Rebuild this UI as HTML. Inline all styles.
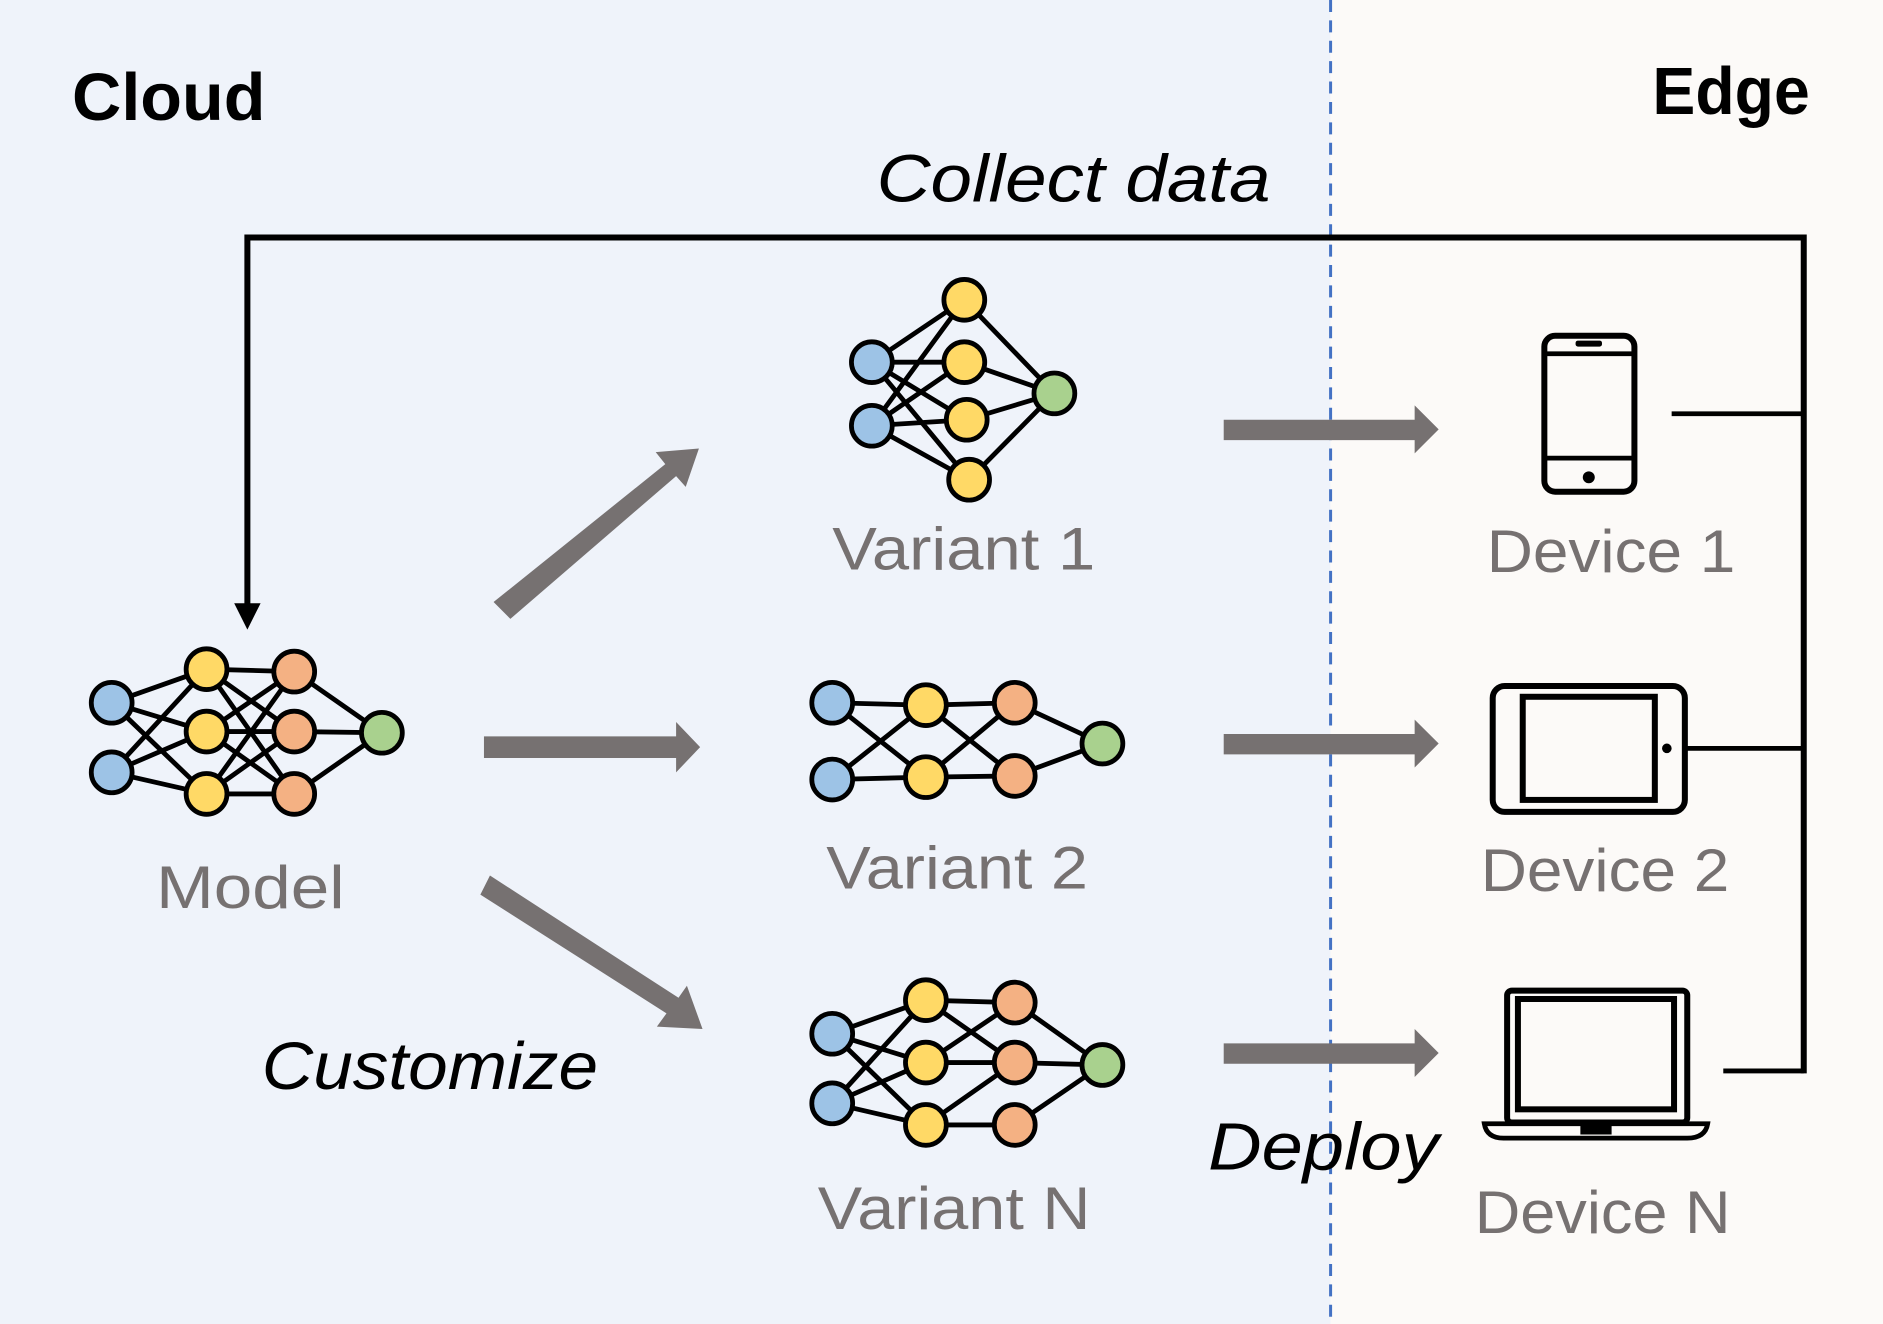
<!DOCTYPE html>
<html><head><style>
html,body{margin:0;padding:0;background:#fff;}
svg{display:block;}
text{font-family:"Liberation Sans",sans-serif;}
</style></head><body>
<svg width="1883" height="1324" viewBox="0 0 1568 1104" preserveAspectRatio="none" xmlns="http://www.w3.org/2000/svg">
<rect x="0" y="0" width="1108" height="1104" fill="#eff3fa"/>
<rect x="1108" y="0" width="460" height="1104" fill="#fcfaf8"/>
<line x1="1108" y1="0" x2="1108" y2="1104" stroke="#4472c4" stroke-width="2.5" stroke-dasharray="10,7"/>

<text x="60" y="100" font-size="56" font-weight="bold" fill="#000" textLength="161" lengthAdjust="spacingAndGlyphs">Cloud</text>
<text x="1376" y="95" font-size="56" font-weight="bold" fill="#000" textLength="131" lengthAdjust="spacingAndGlyphs">Edge</text>
<text x="730" y="168" font-size="56" font-style="italic" fill="#000" textLength="328" lengthAdjust="spacingAndGlyphs">Collect data</text>
<text x="218" y="908" font-size="56" font-style="italic" fill="#000" textLength="280" lengthAdjust="spacingAndGlyphs">Customize</text>
<text x="1006" y="975" font-size="56" font-style="italic" fill="#000" textLength="192" lengthAdjust="spacingAndGlyphs">Deploy</text>

<g font-size="50" fill="#767171" lengthAdjust="spacingAndGlyphs">
<text x="130" y="757" textLength="157" lengthAdjust="spacingAndGlyphs">Model</text>
<text x="693" y="475" textLength="219" lengthAdjust="spacingAndGlyphs">Variant 1</text>
<text x="688" y="741" textLength="218" lengthAdjust="spacingAndGlyphs">Variant 2</text>
<text x="681" y="1025" textLength="227" lengthAdjust="spacingAndGlyphs">Variant N</text>
<text x="1238" y="477" textLength="207" lengthAdjust="spacingAndGlyphs">Device 1</text>
<text x="1233" y="743" textLength="207" lengthAdjust="spacingAndGlyphs">Device 2</text>
<text x="1228" y="1028" textLength="213" lengthAdjust="spacingAndGlyphs">Device N</text>
</g>

<polyline points="206,505 206,198 1502,198 1502,895" fill="none" stroke="#000" stroke-width="5"/>
<polygon points="195,503 217,503 206,525" fill="#000"/>
<line x1="1392" y1="345" x2="1502" y2="345" stroke="#000" stroke-width="4"/>
<line x1="1405" y1="624" x2="1502" y2="624" stroke="#000" stroke-width="4"/>
<line x1="1435" y1="893" x2="1502" y2="893" stroke="#000" stroke-width="4"/>

<g fill="#767171">
<polygon points="411,502 554,387 546,377 582,374 571,406 563,397 425,516"/>
<polygon points="403,614 563,614 563,602 583,623 563,644 563,632 403,632"/>
<polygon points="408,730 565,832 572,822 585,858 547,856 555,845 400,746"/>
<polygon points="1019,350 1178,350 1178,338 1198,358 1178,378 1178,367 1019,367"/>
<polygon points="1019,612 1178,612 1178,600 1198,620 1178,640 1178,629 1019,629"/>
<polygon points="1019,870 1178,870 1178,858 1198,878 1178,898 1178,887 1019,887"/>
</g>

<g fill="none" stroke="#000">
<rect x="1286" y="280" width="75" height="130" rx="9" stroke-width="5"/>
<line x1="1287" y1="295" x2="1360" y2="295" stroke-width="4"/>
<line x1="1287" y1="382" x2="1360" y2="382" stroke-width="4"/>
<rect x="1243" y="572" width="160" height="105" rx="10" stroke-width="5"/>
<rect x="1268" y="581" width="110" height="86" stroke-width="5"/>
<rect x="1255" y="826" width="150" height="110" rx="4" stroke-width="5"/>
<rect x="1264" y="833" width="130" height="92" stroke-width="5"/>
<path d="M1236 937 L1422 937 Q1420 949 1405 949 L1252 949 Q1238 949 1236 937 Z" stroke-width="4"/>
</g>
<rect x="1312" y="284" width="22" height="5" rx="2" fill="#000"/>
<circle cx="1323" cy="398" r="5" fill="#000"/>
<circle cx="1388" cy="624" r="4" fill="#000"/>
<rect x="1316" y="937" width="26" height="9" fill="#000"/>

<g stroke="#000" stroke-width="4" fill="none">
<path d="M93 586L172 558M93 586L172 610M93 586L172 662M93 644L172 558M93 644L172 610M93 644L172 662
M172 558L245 560M172 558L245 610M172 558L245 662M172 610L245 560M172 610L245 610M172 610L245 662M172 662L245 560M172 662L245 610M172 662L245 662
M245 560L318 611M245 610L318 611M245 662L318 611"/>
<path d="M726 302L803 250M726 302L803 302M726 302L805 350M726 302L807 400M726 355L803 250M726 355L803 302M726 355L805 350M726 355L807 400
M803 250L878 328M803 302L878 328M805 350L878 328M807 400L878 328"/>
<path d="M693 586L771 588M693 586L771 648M693 650L771 588M693 650L771 648
M771 588L845 586M771 588L845 647M771 648L845 586M771 648L845 647M845 586L918 620M845 647L918 620"/>
<path d="M693 862L771 834M693 862L771 886M693 862L771 938M693 920L771 834M693 920L771 886M693 920L771 938
M771 834L845 836M771 886L845 836M771 886L845 886M771 938L845 886M771 938L845 938M771 834L845 886
M845 836L918 888M845 886L918 888M845 938L918 888"/>
</g>

<g stroke="#000" stroke-width="4">
<g fill="#9dc3e6">
<circle cx="93" cy="586" r="17"/><circle cx="93" cy="644" r="17"/>
<circle cx="726" cy="302" r="17"/><circle cx="726" cy="355" r="17"/>
<circle cx="693" cy="586" r="17"/><circle cx="693" cy="650" r="17"/>
<circle cx="693" cy="862" r="17"/><circle cx="693" cy="920" r="17"/>
</g>
<g fill="#ffd966">
<circle cx="172" cy="558" r="17"/><circle cx="172" cy="610" r="17"/><circle cx="172" cy="662" r="17"/>
<circle cx="803" cy="250" r="17"/><circle cx="803" cy="302" r="17"/><circle cx="805" cy="350" r="17"/><circle cx="807" cy="400" r="17"/>
<circle cx="771" cy="588" r="17"/><circle cx="771" cy="648" r="17"/>
<circle cx="771" cy="834" r="17"/><circle cx="771" cy="886" r="17"/><circle cx="771" cy="938" r="17"/>
</g>
<g fill="#f4b183">
<circle cx="245" cy="560" r="17"/><circle cx="245" cy="610" r="17"/><circle cx="245" cy="662" r="17"/>
<circle cx="845" cy="586" r="17"/><circle cx="845" cy="647" r="17"/>
<circle cx="845" cy="836" r="17"/><circle cx="845" cy="886" r="17"/><circle cx="845" cy="938" r="17"/>
</g>
<g fill="#a9d18e">
<circle cx="318" cy="611" r="17"/><circle cx="878" cy="328" r="17"/><circle cx="918" cy="620" r="17"/><circle cx="918" cy="888" r="17"/>
</g>
</g>
</svg>
</body></html>
